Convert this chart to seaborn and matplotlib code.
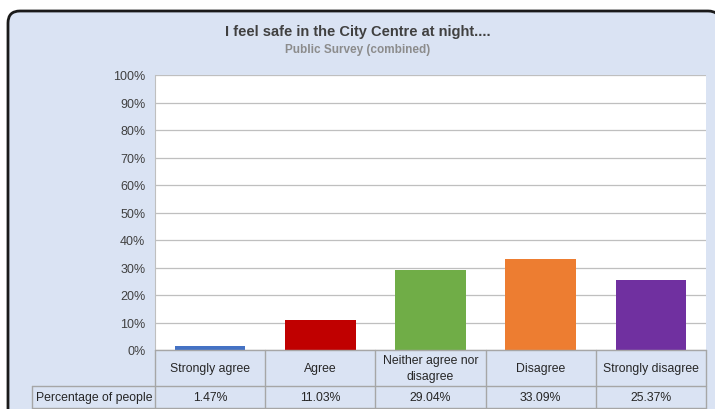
import matplotlib
matplotlib.use("Agg")
import matplotlib.pyplot as plt
from matplotlib.patches import FancyBboxPatch
from matplotlib.transforms import blended_transform_factory
import seaborn as sns
import pandas as pd

# survey answers and share of people
categories = ["Strongly agree", "Agree", "Neither agree nor\ndisagree",
              "Disagree", "Strongly disagree"]
values = [1.47, 11.03, 29.04, 33.09, 25.37]
value_labels = ["1.47%", "11.03%", "29.04%", "33.09%", "25.37%"]
colors = ["#4472c4", "#c00000", "#70ad47", "#ed7d31", "#7030a0"]
yticks = [0, 10, 20, 30, 40, 50, 60, 70, 80, 90, 100]

df = pd.DataFrame({"cat": categories, "val": values})

sns.set_style("white")
plt.rcParams["font.family"] = ["Liberation Sans", "DejaVu Sans"]

bg = "#dae3f3"
grid = "#bfbfbf"
txt = "#404040"

fig = plt.figure(figsize=(7.15, 4.10), dpi=100)
fig.patch.set_facecolor("white")

# rounded chart frame on a background axes
bgax = fig.add_axes([0, 0, 1, 1], zorder=0)
bgax.set_xlim(0, 715)
bgax.set_ylim(410, 0)
bgax.axis("off")
frame = FancyBboxPatch((8, 12), 712, 420,
                       boxstyle="round,pad=0,rounding_size=12",
                       facecolor=bg, edgecolor="#1a1a1a", linewidth=2)
bgax.add_patch(frame)

ax = fig.add_axes([155 / 715, 59 / 410, 551 / 715, 275 / 410], zorder=1)
ax.set_facecolor("white")

sns.barplot(data=df, x="cat", y="val", hue="cat", palette=colors,
            legend=False, width=0.64, saturation=1, linewidth=0,
            ax=ax, zorder=3)

ax.set_ylim(0, 100)
ax.set_xlim(-0.5, len(categories) - 0.5)
ax.set_yticks(yticks)
ax.set_yticklabels([f"{t}%" for t in yticks], fontsize=9, color=txt)
ax.tick_params(axis="y", length=0, pad=7)
ax.set_xticks([])
ax.set_xlabel("")
ax.set_ylabel("")
ax.grid(axis="y", color=grid, linewidth=0.9, zorder=0)
for s in ax.spines.values():
    s.set_visible(False)
ax.spines["left"].set_visible(True)
ax.spines["left"].set_color(grid)

# title
fig.text(0.5, 1 - 32 / 410, "I feel safe in the City Centre at night....",
         ha="center", va="center", fontsize=10.5, fontweight="bold", color=txt)
fig.text(0.5, 1 - 50 / 410, "Public Survey (combined)",
         ha="center", va="center", fontsize=8.5, fontweight="bold",
         color="#8c8c8c")

# data table under the chart
tr = blended_transform_factory(ax.transData, ax.transAxes)
r1 = -36 / 275
r2 = -58 / 275
left = -0.5 - 123 / 110
right = len(categories) - 0.5
lc = "#a6a6a6"
kw = dict(transform=tr, color=lc, linewidth=1, clip_on=False, zorder=5)
ax.plot([-0.5, right], [0, 0], **kw)
ax.plot([left, right], [r1, r1], **kw)
ax.plot([left, right], [r2, r2], **kw)
ax.plot([left, left], [r1, r2], **kw)
for i in range(len(categories) + 1):
    ax.plot([i - 0.5, i - 0.5], [0, r2], **kw)

for i, (c, v) in enumerate(zip(categories, value_labels)):
    ax.text(i, r1 / 2, c, transform=tr, ha="center", va="center",
            fontsize=8.8, color="#262626", linespacing=1.35)
    ax.text(i, (r1 + r2) / 2, v, transform=tr, ha="center", va="center",
            fontsize=8.8, color="#262626")
ax.text(left + 0.04, (r1 + r2) / 2, "Percentage of people", transform=tr,
        ha="left", va="center", fontsize=8.8, color="#262626")

fig.savefig("out.png", dpi=100, facecolor=fig.get_facecolor())
